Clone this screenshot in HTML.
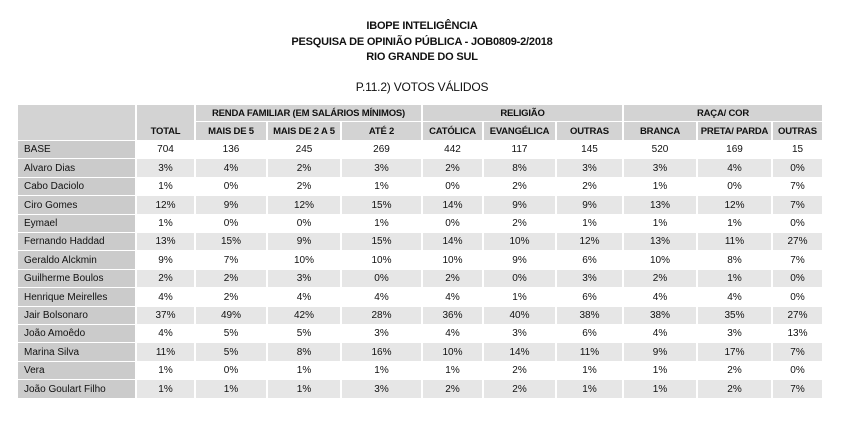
<!DOCTYPE html>
<html><head><meta charset="utf-8"><style>
body{margin:0;background:#fff;font-family:"Liberation Sans",sans-serif;color:#111;}
#root{position:relative;width:844px;height:421px;overflow:hidden;background:#fff;}
.t{position:absolute;left:0;width:844px;text-align:center;font-size:11px;font-weight:bold;letter-spacing:-0.2px;}
.c{position:absolute;box-sizing:border-box;font-size:10px;display:flex;align-items:center;justify-content:center;white-space:nowrap;}
.h{font-weight:bold;font-size:9.5px;letter-spacing:-0.2px;}
.l{justify-content:flex-start;padding-left:6px;}
</style></head><body>
<div id="root">
<div class="t" style="top:20px">IBOPE INTELIGÊNCIA</div>
<div class="t" style="top:36px">PESQUISA DE OPINIÃO PÚBLICA - JOB0809-2/2018</div>
<div class="t" style="top:51px">RIO GRANDE DO SUL</div>
<div class="t" style="top:80px;font-weight:normal;font-size:12px">P.11.2) VOTOS VÁLIDOS</div>
</div>
<script>
const colHeaders=["TOTAL","MAIS DE 5","MAIS DE 2 A 5","ATÉ 2","CATÓLICA","EVANGÉLICA","OUTRAS","BRANCA","PRETA/ PARDA","OUTRAS"];
const groups=[["RENDA FAMILIAR (EM SALÁRIOS MÍNIMOS)",1,4],["RELIGIÃO",4,7],["RAÇA/ COR",7,10]];
const rowLabels=["BASE","Alvaro Dias","Cabo Daciolo","Ciro Gomes","Eymael","Fernando Haddad","Geraldo Alckmin","Guilherme Boulos","Henrique Meirelles","Jair Bolsonaro","João Amoêdo","Marina Silva","Vera","João Goulart Filho"];
const values=[
["704","136","245","269","442","117","145","520","169","15"],
["3%","4%","2%","3%","2%","8%","3%","3%","4%","0%"],
["1%","0%","2%","1%","0%","2%","2%","1%","0%","7%"],
["12%","9%","12%","15%","14%","9%","9%","13%","12%","7%"],
["1%","0%","0%","1%","0%","2%","1%","1%","1%","0%"],
["13%","15%","9%","15%","14%","10%","12%","13%","11%","27%"],
["9%","7%","10%","10%","10%","9%","6%","10%","8%","7%"],
["2%","2%","3%","0%","2%","0%","3%","2%","1%","0%"],
["4%","2%","4%","4%","4%","1%","6%","4%","4%","0%"],
["37%","49%","42%","28%","36%","40%","38%","38%","35%","27%"],
["4%","5%","5%","3%","4%","3%","6%","4%","3%","13%"],
["11%","5%","8%","16%","10%","14%","11%","9%","17%","7%"],
["1%","0%","1%","1%","1%","2%","1%","1%","2%","0%"],
["1%","1%","1%","3%","2%","2%","1%","1%","2%","7%"]];
const xs=[18,137,196,268,342,423,484,557,624,698,773,824];
const root=document.getElementById('root');
function cell(x0,x1,y0,y1,txt,bg,cls){
  const d=document.createElement('div');
  d.className='c '+(cls||'');
  d.style.left=x0+'px';d.style.top=y0+'px';
  d.style.width=(x1-x0)+'px';d.style.height=(y1-y0)+'px';
  d.style.background=bg;
  d.style.borderRight='2px solid #fff';d.style.borderBottom='1px solid #fff';
  d.textContent=txt;root.appendChild(d);return d;
}
const H1=105,H2=122,R0=141,RH=18.4;
let d=cell(xs[0],xs[1],H1,R0,'','#d3d3d3','h');


d=cell(xs[1],xs[2],H1,R0,'','#d3d3d3','h');
d.style.alignItems='flex-end';d.style.paddingBottom='3px';d.textContent=colHeaders[0];


groups.forEach(g=>{
  const e=cell(xs[g[1]+1],xs[g[2]+1],H1,H2,g[0],'#d3d3d3','h');
  
  
});
for(let i=1;i<colHeaders.length;i++){
  const e=cell(xs[i+1],xs[i+2],H2,R0,colHeaders[i],'#d3d3d3','h');
  
  
}
rowLabels.forEach((lab,r)=>{
  const y0=Math.round(R0+r*RH),y1=Math.round(R0+(r+1)*RH);
  const bg=(r%2==1)?'#e6e6e6':'#ffffff';
  const e=cell(xs[0],xs[1],y0,y1,lab,'#cbcbcb','l');
  
  
  values[r].forEach((v,c)=>{
    const f=cell(xs[c+1],xs[c+2],y0,y1,v,bg,'');
    
    
  });
});
</script>
</body></html>
